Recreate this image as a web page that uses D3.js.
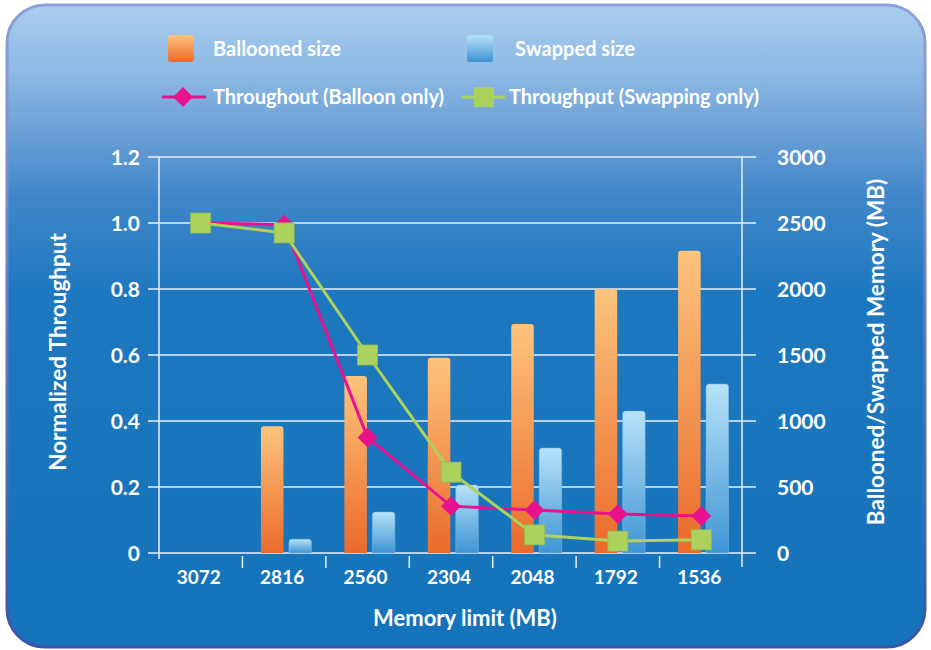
<!DOCTYPE html>
<html>
<head>
<meta charset="utf-8">
<script src="https://cdn.jsdelivr.net/npm/d3@7"></script>
<style>
  body { margin: 0; background: #fff; }
  svg text { font-family: Lato, "Open Sans", sans-serif; font-weight: 700; fill: #fff; }
</style>
</head>
<body>
<svg id="chart" width="931" height="650"></svg>
<script>
const categories = ["3072", "2816", "2560", "2304", "2048", "1792", "1536"];
const balloonedSize = [0, 960, 1340, 1480, 1735, 2000, 2290];
const swappedSize = [0, 105, 310, 515, 795, 1075, 1280];
const tputBalloon = [1.0, 0.995, 0.35, 0.142, 0.13, 0.118, 0.112];
const tputSwapping = [1.0, 0.97, 0.60, 0.245, 0.055, 0.036, 0.04];
const leftTicks = [0, 0.2, 0.4, 0.6, 0.8, 1.0, 1.2];
const rightTicks = [0, 500, 1000, 1500, 2000, 2500, 3000];

const svg = d3.select("#chart");
const defs = svg.append("defs");

// panel background
const bg = defs.append("linearGradient").attr("id", "bg").attr("x1", 0).attr("y1", 0).attr("x2", 0).attr("y2", 1);
[[0, "#aacdee"], [0.1, "#8fbae4"], [0.2, "#6a9fd6"], [0.3, "#3f86c9"], [0.45, "#1e78bf"], [1, "#1473ba"]]
  .forEach(([o, c]) => bg.append("stop").attr("offset", o).attr("stop-color", c));
const border = defs.append("linearGradient").attr("id", "border").attr("x1", 0).attr("y1", 0).attr("x2", 0).attr("y2", 1);
border.append("stop").attr("offset", 0).attr("stop-color", "#8ea2d6");
border.append("stop").attr("offset", 1).attr("stop-color", "#3a55a6");

const orange = defs.append("linearGradient").attr("id", "orange").attr("x1", 0).attr("y1", 0).attr("x2", 0).attr("y2", 1);
orange.append("stop").attr("offset", 0).attr("stop-color", "#fdc47c");
orange.append("stop").attr("offset", 1).attr("stop-color", "#ea6a2b");
const blue = defs.append("linearGradient").attr("id", "blue").attr("x1", 0).attr("y1", 0).attr("x2", 0).attr("y2", 1);
blue.append("stop").attr("offset", 0).attr("stop-color", "#b7e2f8");
blue.append("stop").attr("offset", 1).attr("stop-color", "#3f94d4");

svg.append("rect")
  .attr("x", 7).attr("y", 5).attr("width", 918).attr("height", 642).attr("rx", 38)
  .attr("fill", "url(#bg)").attr("stroke", "url(#border)").attr("stroke-width", 3);

// scales
const x = d3.scaleBand().domain(categories).range([159, 743]);
const yL = d3.scaleLinear().domain([0, 1.2]).range([553, 157]);
const yR = d3.scaleLinear().domain([0, 3000]).range([553, 157]);
const bw = x.bandwidth();

// grid lines
svg.append("g").selectAll("line").data(leftTicks).join("line")
  .attr("x1", 148).attr("x2", 756)
  .attr("y1", d => yL(d)).attr("y2", d => yL(d))
  .attr("stroke", "#e8f0f8").attr("stroke-width", 1.5);

// axes lines
svg.append("line").attr("x1", 159).attr("x2", 159).attr("y1", 157).attr("y2", 559)
  .attr("stroke", "#e8f0f8").attr("stroke-width", 1.5);
svg.append("line").attr("x1", 742).attr("x2", 742).attr("y1", 157).attr("y2", 567)
  .attr("stroke", "#e8f0f8").attr("stroke-width", 1.5);
svg.append("g").selectAll("line").data(categories.slice(1)).join("line")
  .attr("x1", d => x(d)).attr("x2", d => x(d))
  .attr("y1", 556).attr("y2", 568)
  .attr("stroke", "#e8f0f8").attr("stroke-width", 1.5);

// tick labels
svg.append("g").selectAll("text").data(leftTicks).join("text")
  .attr("x", 140).attr("y", d => yL(d)).attr("dy", "0.36em")
  .attr("text-anchor", "end").attr("font-size", 21)
  .text(d => d === 0 ? "0" : d.toFixed(1));
svg.append("g").selectAll("text").data(rightTicks).join("text")
  .attr("x", 777).attr("y", d => yR(d)).attr("dy", "0.36em")
  .attr("text-anchor", "start").attr("font-size", 21)
  .text(d => d);
svg.append("g").selectAll("text").data(categories).join("text")
  .attr("x", d => x(d) + bw / 2 - 2).attr("y", 584)
  .attr("text-anchor", "middle").attr("font-size", 19)
  .text(d => d);

// axis titles
svg.append("text").attr("x", 465).attr("y", 626).attr("text-anchor", "middle")
  .attr("font-size", 22).text("Memory limit (MB)");
svg.append("text").attr("transform", "translate(66,352) rotate(-90)").attr("text-anchor", "middle")
  .attr("font-size", 22.5).text("Normalized Throughput");
svg.append("text").attr("transform", "translate(884,352) rotate(-90)").attr("text-anchor", "middle")
  .attr("font-size", 22.5).text("Ballooned/Swapped Memory (MB)");

// bars
const barPath = (x0, y0, w, h, r) => {
  if (h <= 0) return "";
  r = Math.min(r, h);
  return `M${x0},${y0 + h}V${y0 + r}Q${x0},${y0} ${x0 + r},${y0}H${x0 + w - r}Q${x0 + w},${y0} ${x0 + w},${y0 + r}V${y0 + h}Z`;
};
const bars = svg.append("g");
bars.selectAll(".ball").data(categories).join("path").attr("class", "ball")
  .attr("d", (d, i) => barPath(x(d) + bw * 0.222, yR(balloonedSize[i]), bw * 0.27, yR(0) - yR(balloonedSize[i]), 3))
  .attr("fill", "url(#orange)");
bars.selectAll(".swap").data(categories).join("path").attr("class", "swap")
  .attr("d", (d, i) => barPath(x(d) + bw * 0.557, yR(swappedSize[i]), bw * 0.27, yR(0) - yR(swappedSize[i]), 3))
  .attr("fill", "url(#blue)").attr("stroke", "#7cbde9").attr("stroke-opacity", 0.5);

// lines
const line = d3.line().x((d, i) => x(categories[i]) + bw / 2);
svg.append("path").datum(tputBalloon)
  .attr("d", line.y(d => yL(d)))
  .attr("fill", "none").attr("stroke", "#e8128e").attr("stroke-width", 3);
svg.append("g").selectAll("path").data(tputBalloon).join("path")
  .attr("d", d3.symbol(d3.symbolDiamond2, 250))
  .attr("transform", (d, i) => `translate(${x(categories[i]) + bw / 2},${yL(d)})`)
  .attr("fill", "#e8128e");

svg.append("path").datum(tputSwapping)
  .attr("d", line.y(d => yL(d)))
  .attr("fill", "none").attr("stroke", "#acd15c").attr("stroke-width", 3);
svg.append("g").selectAll("rect").data(tputSwapping).join("rect")
  .attr("x", (d, i) => x(categories[i]) + bw / 2 - 10)
  .attr("y", d => yL(d) - 10)
  .attr("width", 20).attr("height", 20)
  .attr("fill", "#acd15c").attr("stroke", "#8fbf58").attr("stroke-width", 0.8);

// legend
const legend = svg.append("g");
legend.append("rect").attr("x", 168).attr("y", 35).attr("width", 26).attr("height", 27).attr("rx", 3)
  .attr("fill", "url(#orange)");
legend.append("text").attr("x", 213).attr("y", 56).attr("font-size", 20).text("Ballooned size");
legend.append("rect").attr("x", 467).attr("y", 35).attr("width", 26).attr("height", 27).attr("rx", 3)
  .attr("fill", "url(#blue)");
legend.append("text").attr("x", 515).attr("y", 56).attr("font-size", 20).text("Swapped size");

legend.append("line").attr("x1", 162).attr("x2", 206).attr("y1", 97).attr("y2", 97)
  .attr("stroke", "#e8128e").attr("stroke-width", 3);
legend.append("path").attr("d", d3.symbol(d3.symbolDiamond2, 250))
  .attr("transform", "translate(183,97)").attr("fill", "#e8128e");
legend.append("text").attr("x", 213).attr("y", 104).attr("font-size", 20).text("Throughout (Balloon only)");

legend.append("line").attr("x1", 462).attr("x2", 505).attr("y1", 97).attr("y2", 97)
  .attr("stroke", "#acd15c").attr("stroke-width", 3);
legend.append("rect").attr("x", 474).attr("y", 87).attr("width", 20).attr("height", 20)
  .attr("fill", "#acd15c");
legend.append("text").attr("x", 509).attr("y", 104).attr("font-size", 20).text("Throughput (Swapping only)");
</script>
</body>
</html>
